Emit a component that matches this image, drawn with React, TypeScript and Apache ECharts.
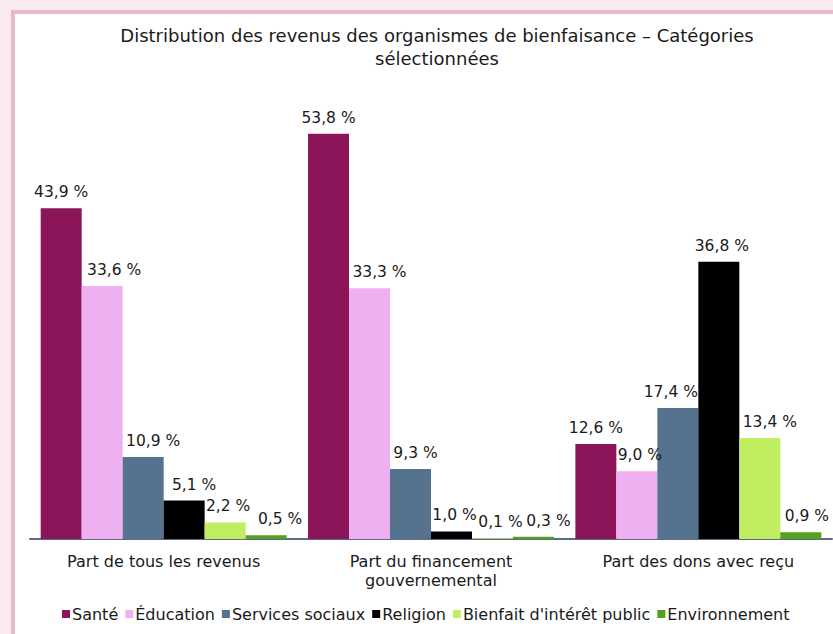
import React, { useEffect, useRef } from "react";
import * as echarts from "echarts";

const categories = [
  "Part de tous les revenus",
  "Part du financement\ngouvernemental",
  "Part des dons avec reçu",
];
const seriesNames = [
  "Santé",
  "Éducation",
  "Services sociaux",
  "Religion",
  "Bienfait d'intérêt public",
  "Environnement",
];
const sante = [43.9, 53.8, 12.6];
const education = [33.6, 33.3, 9.0];
const servicesSociaux = [10.9, 9.3, 17.4];
const religion = [5.1, 1.0, 36.8];
const bienfait = [2.2, 0.1, 13.4];
const environnement = [0.5, 0.3, 0.9];
const colors = ["#8c1559", "#efb0f2", "#55738f", "#000000", "#c0ee60", "#55a01c"];

// horizontal nudges of the value labels (style only)
const labelNudge = [
  [0, 0, 0],
  [12, 10, 3],
  [10, 5, -7],
  [10, 3, 3],
  [3, 8, 10],
  [14, 15, 6],
];

export default function App() {
  const ref = useRef<HTMLDivElement>(null);
  useEffect(() => {
    if (!ref.current) return;
    const chart = echarts.init(ref.current, null, { renderer: "svg" });
    const values = [sante, education, servicesSociaux, religion, bienfait, environnement];
    const font = "'DejaVu Sans', 'Liberation Sans', Arial, sans-serif";
    chart.setOption({
      animation: false,
      textStyle: { fontFamily: font },
      graphic: [
        {
          type: "rect",
          z: -10,
          silent: true,
          shape: { x: 0, y: 0, width: 833, height: 634 },
          style: { fill: "#fbe9f0" },
        },
        {
          type: "rect",
          z: -9,
          silent: true,
          shape: { x: 13, y: 12, width: 840, height: 640 },
          style: { fill: "#ffffff", stroke: "#e8b8cd", lineWidth: 4 },
        },
      ],
      title: {
        text: "Distribution des revenus des organismes de bienfaisance – Catégories\nsélectionnées",
        left: 432,
        top: 19,
        textAlign: "center",
        textStyle: {
          fontFamily: font,
          fontSize: 18,
          fontWeight: "normal",
          color: "#1a1a1a",
          lineHeight: 23,
        },
      },
      legend: {
        data: seriesNames,
        left: 62,
        top: 606,
        padding: 0,
        itemWidth: 8,
        itemHeight: 8,
        itemGap: 7,
        icon: "rect",
        textStyle: { fontFamily: font, fontSize: 16, color: "#1a1a1a", padding: [0, 0, 0, -3] },
      },
      grid: { left: 30, right: 1, top: 87, bottom: 95, containLabel: false },
      xAxis: {
        type: "category",
        data: categories,
        axisLine: { lineStyle: { color: "#5c6b88", width: 2 } },
        axisTick: { show: false },
        axisLabel: {
          fontFamily: font,
          fontSize: 16,
          color: "#1a1a1a",
          margin: 13,
          lineHeight: 19,
          interval: 0,
        },
      },
      yAxis: {
        type: "value",
        min: 0,
        max: 60,
        show: false,
        splitLine: { show: false },
      },
      series: seriesNames.map((name, i) => ({
        name,
        type: "bar",
        data: values[i].map((v, j) => ({
          value: v,
          label: { offset: [labelNudge[i][j], 0] },
        })),
        barGap: "0%",
        barCategoryGap: "8%",
        itemStyle: { color: colors[i] },
        label: {
          show: true,
          position: "top",
          distance: 8,
          fontFamily: font,
          fontSize: 15.5,
          color: "#1a1a1a",
          formatter: (p: any) => Number(p.value).toFixed(1).replace(".", ",") + " %",
        },
      })),
    });
    return () => chart.dispose();
  }, []);
  return (
    <div
      ref={ref}
      style={{ position: "absolute", left: 0, top: 0, width: 833, height: 634 }}
    />
  );
}
